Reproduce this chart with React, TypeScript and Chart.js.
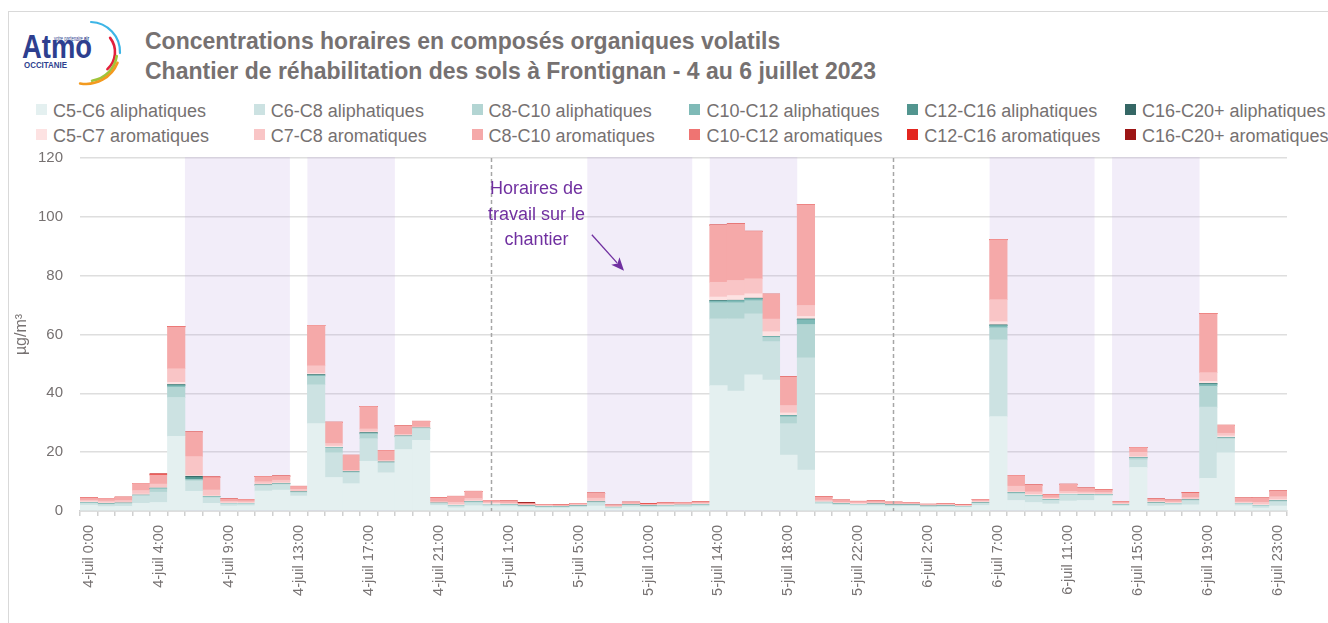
import React, { useEffect, useRef } from "react";
import { Chart, registerables } from "chart.js";

Chart.register(...registerables);

// ---------- categories (hourly, 6:00 missing every day) ----------
const labels = [
  "4-juil 0:00", "4-juil 1:00", "4-juil 2:00", "4-juil 3:00", "4-juil 4:00", "4-juil 5:00", "4-juil 7:00", "4-juil 8:00",
  "4-juil 9:00", "4-juil 10:00", "4-juil 11:00", "4-juil 12:00", "4-juil 13:00", "4-juil 14:00", "4-juil 15:00", "4-juil 16:00",
  "4-juil 17:00", "4-juil 18:00", "4-juil 19:00", "4-juil 20:00", "4-juil 21:00", "4-juil 22:00", "4-juil 23:00",
  "5-juil 0:00", "5-juil 1:00", "5-juil 2:00", "5-juil 3:00", "5-juil 4:00", "5-juil 5:00", "5-juil 7:00", "5-juil 8:00",
  "5-juil 9:00", "5-juil 10:00", "5-juil 11:00", "5-juil 12:00", "5-juil 13:00", "5-juil 14:00", "5-juil 15:00", "5-juil 16:00",
  "5-juil 17:00", "5-juil 18:00", "5-juil 19:00", "5-juil 20:00", "5-juil 21:00", "5-juil 22:00", "5-juil 23:00",
  "6-juil 0:00", "6-juil 1:00", "6-juil 2:00", "6-juil 3:00", "6-juil 4:00", "6-juil 5:00", "6-juil 7:00", "6-juil 8:00",
  "6-juil 9:00", "6-juil 10:00", "6-juil 11:00", "6-juil 12:00", "6-juil 13:00", "6-juil 14:00", "6-juil 15:00", "6-juil 16:00",
  "6-juil 17:00", "6-juil 18:00", "6-juil 19:00", "6-juil 20:00", "6-juil 21:00", "6-juil 22:00", "6-juil 23:00",
];

// ---------- series values (µg/m3), one value per hour ----------
const c5c6Aliph = [
  2.0, 1.5, 1.6, 2.6, 2.9, 25.4, 6.7, 2.6, 1.7, 1.8, 6.8, 7.1, 5.1, 29.7, 11.4, 9.3, 16.9, 13.0, 20.9, 24.0, 1.9, 1.1, 1.8,
  1.5, 1.5, 1.2, 1.0, 1.0, 1.2, 1.7, 0.8, 1.4, 1.2, 1.3, 1.3, 1.5, 42.6, 40.8, 46.3, 44.5, 19.0, 13.9, 2.3, 1.9, 1.8, 1.8,
  1.5, 1.6, 1.2, 1.3, 1.2, 1.9, 32.1, 3.6, 2.9, 2.4, 3.4, 3.6, 5.1, 1.7, 14.8, 1.7, 1.9, 2.1, 11.1, 19.8, 1.8, 1.0, 1.7,
];
const c6c8Aliph = [
  0.6, 0.7, 0.8, 2.5, 3.5, 13.2, 3.5, 1.9, 0.7, 0.6, 1.8, 1.9, 1.1, 13.2, 8.4, 3.6, 7.7, 3.2, 4.3, 4.0, 0.6, 0.6, 1.0,
  0.6, 0.5, 0.4, 0.3, 0.3, 0.4, 1.1, 0.3, 0.5, 0.4, 0.4, 0.5, 0.5, 22.7, 24.5, 20.7, 13.1, 10.7, 38.2, 0.5, 0.4, 0.3, 0.4,
  0.4, 0.3, 0.3, 0.3, 0.2, 0.7, 26.1, 2.2, 2.0, 1.2, 2.0, 1.7, 0.3, 0.3, 2.6, 0.9, 0.5, 1.4, 24.2, 4.7, 0.6, 0.7, 1.4,
];
const c8c10Aliph = [
  0.2, 0.2, 0.2, 0.2, 1.1, 3.5, 0.4, 0.3, 0.1, 0.1, 0.2, 0.2, 0.2, 2.9, 1.6, 0.3, 1.6, 0.3, 0.2, 0.1, 0.1, 0.1, 0.3,
  0.1, 0.1, 0.1, 0.1, 0.1, 0.1, 0.2, 0.1, 0.1, 0.1, 0.1, 0.1, 0.1, 5.5, 5.5, 4.5, 1.4, 2.3, 11.3, 0.1, 0.1, 0.1, 0.1,
  0.1, 0.1, 0.1, 0.1, 0.1, 0.1, 4.1, 0.3, 0.3, 0.2, 0.2, 0.2, 0.1, 0.1, 0.6, 0.1, 0.1, 0.2, 7.1, 0.3, 0.1, 0.1, 0.3,
];
const c10c12Aliph = [
  0.05, 0.05, 0.05, 0.05, 0.2, 0.5, 0.2, 0.1, 0.05, 0.05, 0.05, 0.05, 0.05, 0.3, 0.2, 0.1, 0.2, 0.1, 0.05, 0.05, 0.05, 0.05, 0.05,
  0.05, 0.05, 0.05, 0.05, 0.05, 0.05, 0.05, 0.05, 0.05, 0.05, 0.05, 0.05, 0.05, 0.5, 0.7, 0.6, 0.3, 0.4, 1.6, 0.05, 0.05, 0.05, 0.05,
  0.05, 0.05, 0.05, 0.05, 0.05, 0.05, 0.7, 0.1, 0.1, 0.05, 0.05, 0.05, 0.05, 0.05, 0.1, 0.05, 0.05, 0.05, 0.6, 0.1, 0.05, 0.05, 0.05,
];
const c12c16Aliph = [
  0.02, 0.02, 0.02, 0.02, 0.05, 0.3, 0.7, 0.05, 0.02, 0.02, 0.02, 0.02, 0.02, 0.2, 0.05, 0.02, 0.2, 0.02, 0.02, 0.02, 0.02, 0.02, 0.02,
  0.02, 0.02, 0.02, 0.02, 0.02, 0.02, 0.02, 0.02, 0.02, 0.02, 0.02, 0.02, 0.02, 0.2, 0.1, 0.2, 0.05, 0.05, 0.2, 0.02, 0.02, 0.02, 0.02,
  0.02, 0.02, 0.02, 0.02, 0.02, 0.02, 0.2, 0.02, 0.02, 0.02, 0.02, 0.02, 0.02, 0.02, 0.05, 0.02, 0.02, 0.02, 0.3, 0.02, 0.02, 0.02, 0.02,
];
const c16c20Aliph = [
  0, 0, 0, 0, 0, 0.05, 0.3, 0, 0, 0, 0, 0, 0, 0.05, 0, 0, 0, 0, 0, 0, 0, 0, 0,
  0, 0, 0, 0, 0, 0, 0, 0, 0, 0, 0, 0, 0, 0.05, 0.05, 0.05, 0, 0, 0.05, 0, 0, 0, 0,
  0, 0, 0, 0, 0, 0, 0.05, 0, 0, 0, 0, 0, 0, 0, 0, 0, 0, 0, 0.05, 0, 0, 0, 0,
];
const c5c7Arom = [
  0.3, 0.3, 0.3, 0.4, 0.2, 0.8, 0.3, 0.2, 0.2, 0.2, 0.3, 0.3, 0.2, 0.4, 0.4, 0.2, 0.3, 0.2, 0.3, 0.2, 0.2, 0.3, 0.3,
  0.3, 0.2, 0.2, 0.2, 0.1, 0.2, 0.3, 0.2, 0.2, 0.1, 0.2, 0.2, 0.2, 1.2, 1.6, 1.5, 1.6, 0.9, 0.9, 0.3, 0.2, 0.2, 0.2,
  0.2, 0.2, 0.2, 0.2, 0.1, 0.3, 1.1, 0.3, 0.3, 0.3, 0.3, 0.3, 0.2, 0.2, 0.3, 0.3, 0.2, 0.3, 0.7, 0.6, 0.2, 0.3, 0.4,
];
const c7c8Arom = [
  0.5, 0.6, 0.6, 1.2, 1.2, 4.6, 6.4, 2.0, 0.5, 0.4, 0.8, 0.9, 0.7, 2.6, 0.9, 0.3, 1.0, 0.4, 0.3, 0.2, 0.3, 0.8, 0.8,
  0.3, 0.3, 0.2, 0.2, 0.2, 0.2, 1.0, 0.2, 0.2, 0.2, 0.2, 0.2, 0.2, 5.0, 5.1, 5.1, 4.3, 2.5, 3.7, 0.4, 0.3, 0.3, 0.3,
  0.2, 0.2, 0.2, 0.2, 0.2, 0.3, 7.5, 1.9, 0.9, 0.3, 0.7, 0.6, 0.5, 0.3, 1.5, 0.3, 0.3, 0.5, 3.0, 0.9, 0.3, 0.8, 1.0,
];
const c8c10Arom = [
  0.8, 0.9, 1.1, 2.4, 3.0, 14.2, 8.3, 4.2, 0.8, 0.7, 1.7, 1.4, 1.0, 13.7, 7.2, 5.1, 7.6, 3.3, 2.8, 1.9, 1.3, 2.0, 2.4,
  0.7, 0.7, 0.3, 0.3, 0.3, 0.4, 1.7, 0.3, 0.5, 0.2, 0.5, 0.5, 0.5, 19.4, 19.2, 16.1, 8.4, 9.7, 34.2, 1.1, 0.7, 0.5, 0.5,
  0.5, 0.4, 0.2, 0.3, 0.2, 0.5, 20.3, 3.6, 2.3, 1.0, 2.4, 1.3, 0.9, 0.5, 1.6, 0.7, 0.6, 1.5, 20.0, 2.7, 1.3, 1.4, 1.9,
];
const c10c12Arom = [
  0.05, 0.03, 0.03, 0.03, 0.2, 0.1, 0.05, 0.2, 0.03, 0.03, 0.03, 0.03, 0.03, 0.05, 0.03, 0.03, 0.03, 0.03, 0.03, 0.03, 0.03, 0.03, 0.03,
  0.03, 0.03, 0.1, 0.03, 0.03, 0.03, 0.03, 0.03, 0.03, 0.2, 0.03, 0.03, 0.03, 0.05, 0.05, 0.05, 0.05, 0.05, 0.05, 0.03, 0.03, 0.03, 0.03,
  0.03, 0.03, 0.03, 0.03, 0.03, 0.03, 0.2, 0.03, 0.03, 0.2, 0.03, 0.03, 0.03, 0.03, 0.1, 0.03, 0.03, 0.2, 0.05, 0.03, 0.03, 0.03, 0.03,
];
const c12c16Arom = [
  0, 0, 0, 0, 0.25, 0, 0, 0, 0, 0, 0, 0, 0, 0, 0, 0, 0, 0, 0, 0, 0, 0, 0,
  0, 0, 0, 0, 0, 0, 0, 0, 0, 0.1, 0, 0, 0, 0, 0, 0, 0, 0, 0, 0, 0, 0, 0,
  0, 0, 0, 0, 0, 0, 0, 0, 0, 0, 0, 0, 0, 0, 0, 0, 0, 0, 0, 0, 0, 0, 0,
];
const c16c20Arom = [
  0, 0, 0, 0, 0, 0, 0, 0, 0, 0, 0, 0, 0, 0, 0, 0, 0, 0, 0, 0, 0, 0, 0,
  0, 0, 0.35, 0, 0, 0, 0, 0, 0, 0, 0, 0, 0, 0, 0, 0, 0, 0, 0, 0, 0, 0, 0,
  0, 0, 0, 0, 0, 0, 0, 0, 0, 0, 0, 0, 0, 0, 0, 0, 0, 0, 0, 0, 0, 0, 0,
];

const aliphNames = [
  "C5-C6 aliphatiques", "C6-C8 aliphatiques", "C8-C10 aliphatiques",
  "C10-C12 aliphatiques", "C12-C16 aliphatiques", "C16-C20+ aliphatiques",
];
const aromNames = [
  "C5-C7 aromatiques", "C7-C8 aromatiques", "C8-C10 aromatiques",
  "C10-C12 aromatiques", "C12-C16 aromatiques", "C16-C20+ aromatiques",
];
const aliphColors = ["#e4f0f0", "#cce2e2", "#b3d5d3", "#7fbab7", "#52958f", "#356765"];
const aromColors = ["#fde2e2", "#f9c5c6", "#f5a9a9", "#ef7472", "#e3261f", "#9c1515"];
const aliphValues = [c5c6Aliph, c6c8Aliph, c8c10Aliph, c10c12Aliph, c12c16Aliph, c16c20Aliph];
const aromValues = [c5c7Arom, c7c8Arom, c8c10Arom, c10c12Arom, c12c16Arom, c16c20Arom];

// ---------- annotations (in category / value units) ----------
const workBands = [
  ["4-juil 7:00", "4-juil 12:00"], ["4-juil 14:00", "4-juil 18:00"],
  ["5-juil 7:00", "5-juil 12:00"], ["5-juil 14:00", "5-juil 18:00"],
  ["6-juil 7:00", "6-juil 12:00"], ["6-juil 14:00", "6-juil 18:00"],
];
const dayMarks = ["5-juil 0:00", "6-juil 0:00"];
const noteLines = ["Horaires de", "travail sur le", "chantier"];
const noteAnchor = { index: 25.6, value: 109.3 };
const arrowFrom = { index: 28.76, value: 93.9 };
const arrowTo = { index: 30.6, value: 81.7 };

const yMax = 120;
const yStep = 20;
const tickEvery = 4;

const FONT = '"Liberation Sans", Arial, sans-serif';
const TEXT = "#767171";

const overlayPlugin = {
  id: "overlay",
  beforeDatasetsDraw(chart: any) {
    const { ctx, chartArea, scales } = chart;
    const x = scales.x;
    const half = (x.getPixelForValue(1) - x.getPixelForValue(0)) / 2;
    ctx.save();
    ctx.fillStyle = "rgba(190,165,225,0.2)";
    workBands.forEach(([a, b]) => {
      const l = x.getPixelForValue(labels.indexOf(a)) - half;
      const r = x.getPixelForValue(labels.indexOf(b)) + half;
      ctx.fillRect(l, chartArea.top - 1, r - l, chartArea.bottom - chartArea.top + 1);
    });
    ctx.restore();
  },
  afterDatasetsDraw(chart: any) {
    const { ctx, chartArea, scales } = chart;
    const x = scales.x;
    const y = scales.y;
    ctx.save();
    // midnight dashed lines
    ctx.strokeStyle = "#a6a6a6";
    ctx.lineWidth = 1.5;
    ctx.setLineDash([4, 3]);
    dayMarks.forEach((lab) => {
      const px = Math.round(x.getPixelForValue(labels.indexOf(lab))) + 0.5;
      ctx.beginPath();
      ctx.moveTo(px, chartArea.top);
      ctx.lineTo(px, chartArea.bottom);
      ctx.stroke();
    });
    ctx.setLineDash([]);
    // note text
    ctx.fillStyle = "#7030a0";
    ctx.font = `18px ${FONT}`;
    ctx.textAlign = "center";
    ctx.textBaseline = "middle";
    const tx = x.getPixelForValue(noteAnchor.index);
    const ty = y.getPixelForValue(noteAnchor.value);
    noteLines.forEach((s, i) => ctx.fillText(s, tx, ty + i * 25.5));
    // arrow
    const x0 = x.getPixelForValue(arrowFrom.index);
    const y0 = y.getPixelForValue(arrowFrom.value);
    const x1 = x.getPixelForValue(arrowTo.index);
    const y1 = y.getPixelForValue(arrowTo.value);
    const ang = Math.atan2(y1 - y0, x1 - x0);
    const hl = 13;
    const hw = 5.5;
    ctx.strokeStyle = "#7030a0";
    ctx.lineWidth = 1.3;
    ctx.beginPath();
    ctx.moveTo(x0, y0);
    ctx.lineTo(x1 - Math.cos(ang) * hl * 0.8, y1 - Math.sin(ang) * hl * 0.8);
    ctx.stroke();
    ctx.beginPath();
    ctx.moveTo(x1, y1);
    ctx.lineTo(x1 - Math.cos(ang) * hl + Math.sin(ang) * hw, y1 - Math.sin(ang) * hl - Math.cos(ang) * hw);
    ctx.lineTo(x1 - Math.cos(ang) * hl * 0.75, y1 - Math.sin(ang) * hl * 0.75);
    ctx.lineTo(x1 - Math.cos(ang) * hl - Math.sin(ang) * hw, y1 - Math.sin(ang) * hl + Math.cos(ang) * hw);
    ctx.closePath();
    ctx.fill();
    ctx.restore();
  },
};

function Logo() {
  const arc = (cx: number, cy: number, r: number, a0: number, a1: number) => {
    const p = (a: number) => [cx + r * Math.cos((a * Math.PI) / 180), cy + r * Math.sin((a * Math.PI) / 180)];
    const [sx, sy] = p(a0);
    const [ex, ey] = p(a1);
    return `M ${sx} ${sy} A ${r} ${r} 0 0 1 ${ex} ${ey}`;
  };
  return (
    <svg width={140} height={92} style={{ position: "absolute", left: 0, top: 0 }}>
      <text x={22} y={58} fontFamily={FONT} fontWeight="bold" fontSize={33} fill="#2e3f8f" textLength={70} lengthAdjust="spacingAndGlyphs">
        Atmo
      </text>
      <text x={54} y={41} fontFamily={FONT} fontSize={7.5} fill="#2e3f8f" textLength={35} lengthAdjust="spacingAndGlyphs">
        votre partenaire <tspan fontWeight="bold">air</tspan>
      </text>
      <text x={24} y={68} fontFamily={FONT} fontWeight="bold" fontSize={8.5} fill="#2e3f8f" textLength={43} lengthAdjust="spacingAndGlyphs">
        OCCITANIE
      </text>
      <path d={arc(90, 52, 30, -88, 2)} stroke="#3db5e6" strokeWidth={2.2} fill="none" strokeLinecap="round" />
      <path d={arc(92, 52, 23, -38, 48)} stroke="#e3203b" strokeWidth={2.6} fill="none" strokeLinecap="round" />
      <path d={arc(88, 52, 29, 8, 82)} stroke="#9fc43a" strokeWidth={2.6} fill="none" strokeLinecap="round" />
      <path d={arc(86, 50, 34, 22, 100)} stroke="#f39a1f" strokeWidth={2.6} fill="none" strokeLinecap="round" />
    </svg>
  );
}

export default function App() {
  const ref = useRef<HTMLCanvasElement | null>(null);

  useEffect(() => {
    if (!ref.current) return;
    const datasets: any[] = [];
    aliphNames.forEach((n, i) =>
      datasets.push({ label: n, data: aliphValues[i], backgroundColor: aliphColors[i] })
    );
    aromNames.forEach((n, i) =>
      datasets.push({ label: n, data: aromValues[i], backgroundColor: aromColors[i] })
    );
    datasets.forEach((d) => {
      d.borderWidth = 0;
      d.barPercentage = 1;
      d.categoryPercentage = 1;
    });
    const chart = new Chart(ref.current, {
      type: "bar",
      data: { labels, datasets },
      plugins: [overlayPlugin],
      options: {
        animation: false,
        responsive: false,
        devicePixelRatio: 1,
        layout: { padding: { left: 0, right: 41, top: 18, bottom: 0 } },
        plugins: { legend: { display: false }, tooltip: { enabled: false } },
        scales: {
          x: {
            stacked: true,
            offset: true,
            grid: { offset: true, drawOnChartArea: false, drawTicks: true, tickLength: 5, color: "#d0d0d0", lineWidth: 1.5 },
            border: { display: true, color: "#d0d0d0", width: 1.5 },
            ticks: {
              autoSkip: false,
              minRotation: 90,
              maxRotation: 90,
              padding: 9,
              color: TEXT,
              font: { family: FONT, size: 14.5 },
              callback: (_v: any, i: number) => (i % tickEvery === 0 ? labels[i] : ""),
            },
            afterFit: (s: any) => {
              s.height = 112;
              s.paddingLeft = 0;
              s.paddingRight = 0;
            },
          },
          y: {
            stacked: true,
            min: 0,
            max: yMax,
            grid: { color: "#dedede", lineWidth: 1.5, drawTicks: false },
            border: { display: false },
            ticks: { stepSize: yStep, padding: 17, color: TEXT, font: { family: FONT, size: 15 } },
            title: { display: true, text: "µg/m³", color: TEXT, font: { family: FONT, size: 16 }, padding: { top: 12, bottom: 0 } },
            afterFit: (s: any) => {
              s.width = 80;
              s.paddingTop = 0;
              s.paddingBottom = 0;
            },
          },
        },
      } as any,
    });
    return () => chart.destroy();
  }, []);

  const colX = (i: number) => 36 + i * 217.8;
  const rowTop = [99, 124];

  return (
    <div
      style={{
        position: "absolute",
        left: 0,
        top: 0,
        width: 1328,
        height: 623,
        overflow: "hidden",
        background: "#ffffff",
        fontFamily: FONT,
      }}
    >
      <div
        style={{
          position: "absolute",
          left: 8,
          top: 11,
          width: 1400,
          height: 700,
          borderLeft: "1px solid #d9d9d9",
          borderTop: "1px solid #d9d9d9",
        }}
      />
      <Logo />
      <div
        style={{
          position: "absolute",
          left: 145,
          top: 26,
          fontSize: 23,
          lineHeight: "30px",
          fontWeight: "bold",
          color: TEXT,
          whiteSpace: "nowrap",
        }}
      >
        <div>Concentrations horaires en composés organiques volatils</div>
        <div>Chantier de réhabilitation des sols à Frontignan - 4 au 6 juillet 2023</div>
      </div>
      {[aliphNames, aromNames].map((names, r) =>
        names.map((n, c) => (
          <div key={`${r}-${c}`} style={{ position: "absolute", left: colX(c), top: rowTop[r], height: 25, whiteSpace: "nowrap" }}>
            <div
              style={{
                position: "absolute",
                left: 0,
                top: 5,
                width: 11,
                height: 11,
                background: (r === 0 ? aliphColors : aromColors)[c],
              }}
            />
            <div style={{ position: "absolute", left: 17, top: 0, fontSize: 18, lineHeight: "25px", color: TEXT }}>{n}</div>
          </div>
        ))
      )}
      <canvas ref={ref} width={1328} height={483} style={{ position: "absolute", left: 0, top: 140, width: 1328, height: 483 }} />
    </div>
  );
}
